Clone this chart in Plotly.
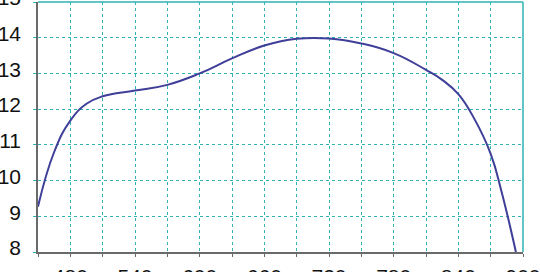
import plotly.graph_objects as go

# Data
x_vals = [450, 465, 480, 495, 510, 540, 570, 600, 630, 660, 690, 720, 750, 780, 810, 825, 840, 855, 870, 880, 893.4]
y_vals = [9.27, 10.8, 11.68, 12.15, 12.36, 12.52, 12.68, 13.0, 13.42, 13.78, 13.97, 13.98, 13.84, 13.57, 13.1, 12.82, 12.42, 11.72, 10.75, 9.7, 8.0]

x_ticks = list(range(450, 901, 30))
x_ticktext = [str(v) if (v - 480) % 60 == 0 else "" for v in x_ticks]
y_ticks = list(range(8, 16))

GRID = "#2fb3b3"
AXIS = "#6a6a6a"
LINE = "#3f3f99"

fig = go.Figure()
fig.add_trace(go.Scatter(x=x_vals, y=y_vals, mode="lines",
                         line=dict(color=LINE, width=2, shape="spline", smoothing=1.3),
                         hoverinfo="skip", cliponaxis=True))

fig.update_layout(
    template="none",
    width=540, height=272,
    margin=dict(l=38, r=17, t=2, b=20, pad=0),
    paper_bgcolor="white", plot_bgcolor="white",
    showlegend=False,
    font=dict(family="Liberation Sans, Arial, sans-serif", size=21, color="#111111"),
    xaxis=dict(range=[450, 900], tickvals=x_ticks, ticktext=x_ticktext,
               showgrid=True, gridcolor=GRID, griddash="dot", gridwidth=1,
               showline=True, linecolor=AXIS, linewidth=2,
               ticks="outside", ticklen=3, tickcolor=AXIS, tickwidth=1,
               zeroline=False, automargin=False, ticklabelstandoff=2,
               ticklabeloverflow="allow"),
    yaxis=dict(range=[8, 15], tickvals=y_ticks,
               showgrid=True, gridcolor=GRID, griddash="dot", gridwidth=1,
               showline=True, linecolor=AXIS, linewidth=1.5,
               ticks="outside", ticklen=3, tickcolor=GRID, tickwidth=1,
               zeroline=False, automargin=False, ticklabelstandoff=8, ticklabelshift=-4,
               ticklabeloverflow="allow"),
    shapes=[
        dict(type="line", xref="paper", yref="paper", x0=0, x1=1, y0=1, y1=1,
             line=dict(color=GRID, width=1.5), layer="above"),
        dict(type="line", xref="paper", yref="paper", x0=1, x1=1, y0=0, y1=1,
             line=dict(color=GRID, width=1.5), layer="above"),
    ],
)

fig.write_html("out.html")
